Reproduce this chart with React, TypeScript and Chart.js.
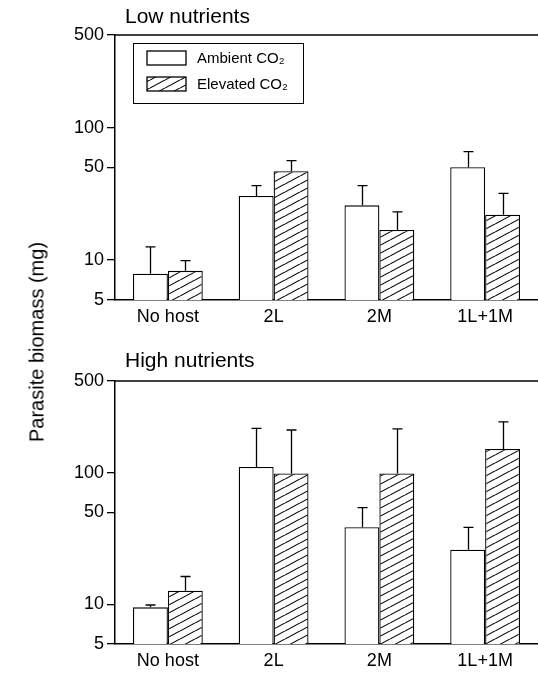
import React, { useEffect, useRef } from "react";
import { Chart, registerables } from "chart.js";

Chart.register(...registerables);

const categories = ["No host", "2L", "2M", "1L+1M"];
const yTicks = [5, 10, 50, 100, 500];
const seriesLabels = ["Ambient CO₂", "Elevated CO₂"];

const lowAmbient = [7.9, 30.5, 25.9, 50.2];
const lowAmbientErr = [12.6, 36.5, 36.5, 65.8];
const lowElevated = [8.3, 46.8, 16.9, 22.0];
const lowElevatedErr = [9.9, 56.3, 23.1, 31.9];

const highAmbient = [9.5, 111, 38.6, 26.1];
const highAmbientErr = [9.9, 218, 54.4, 38.6];
const highElevated = [12.7, 99, 99, 152];
const highElevatedErr = [16.3, 212, 216, 244];

const FONT = "'Liberation Sans', Arial, Helvetica, sans-serif";

function makeHatch(): CanvasPattern | string {
  const w = 15;
  const h = 8;
  const c = document.createElement("canvas");
  c.width = w;
  c.height = h;
  const ctx = c.getContext("2d");
  if (!ctx) return "#fff";
  ctx.fillStyle = "#fff";
  ctx.fillRect(0, 0, w, h);
  ctx.strokeStyle = "#000";
  ctx.lineWidth = 1.1;
  for (let k = -1; k <= 1; k++) {
    ctx.beginPath();
    ctx.moveTo(k * w, h);
    ctx.lineTo(k * w + w, 0);
    ctx.stroke();
  }
  const p = ctx.createPattern(c, "repeat");
  return p || "#fff";
}

type PanelProps = {
  title: string;
  titleBaseline: number;
  ambient: number[];
  ambientErr: number[];
  elevated: number[];
  elevatedErr: number[];
  padTop: number;
  axisHeight: number;
  height: number;
  showLegend: boolean;
};

function Panel(props: PanelProps) {
  const ref = useRef<HTMLCanvasElement | null>(null);
  useEffect(() => {
    const canvas = ref.current;
    if (!canvas) return;
    const hatch = makeHatch();
    const errs = [props.ambientErr, props.elevatedErr];

    const decor = {
      id: "decor",
      afterDatasetsDraw(chart: any) {
        const ctx = chart.ctx;
        const area = chart.chartArea;
        const ys = chart.scales.y;
        ctx.save();
        // error bars
        ctx.strokeStyle = "#000";
        ctx.lineWidth = 1.3;
        chart.data.datasets.forEach((_ds: any, i: number) => {
          const meta = chart.getDatasetMeta(i);
          meta.data.forEach((bar: any, j: number) => {
            const x = Math.round(bar.x) + 0.5;
            const yTop = bar.y;
            const yErr = ys.getPixelForValue(errs[i][j]);
            ctx.beginPath();
            ctx.moveTo(x, yTop);
            ctx.lineTo(x, yErr);
            ctx.moveTo(x - 5, yErr);
            ctx.lineTo(x + 5, yErr);
            ctx.stroke();
          });
        });
        // top frame line
        ctx.lineWidth = 1.5;
        ctx.beginPath();
        ctx.moveTo(area.left, area.top);
        ctx.lineTo(chart.width, area.top);
        ctx.stroke();
        // title
        ctx.fillStyle = "#000";
        ctx.font = `21px ${FONT}`;
        ctx.textAlign = "left";
        ctx.textBaseline = "alphabetic";
        ctx.fillText(props.title, 125, props.titleBaseline);
        // legend
        if (props.showLegend) {
          const bx = 133;
          const by = 43;
          ctx.lineWidth = 1;
          ctx.strokeRect(bx + 0.5, by + 0.5, 170, 60);
          chart.data.datasets.forEach((ds: any, i: number) => {
            const sy = i === 0 ? 51 : 77;
            ctx.fillStyle = ds.backgroundColor;
            ctx.fillRect(147, sy, 39, 14);
            ctx.lineWidth = 1.3;
            ctx.strokeRect(147, sy, 39, 14);
            ctx.fillStyle = "#000";
            ctx.font = `15px ${FONT}`;
            ctx.textBaseline = "middle";
            ctx.fillText(ds.label, 197, sy + 8);
          });
        }
        ctx.restore();
      },
    };

    const chart = new Chart(canvas, {
      type: "bar",
      data: {
        labels: categories,
        datasets: [
          {
            label: seriesLabels[0],
            data: props.ambient,
            backgroundColor: "#ffffff",
            borderColor: "#000",
            borderWidth: 1.3,
          },
          {
            label: seriesLabels[1],
            data: props.elevated,
            backgroundColor: hatch as any,
            borderColor: "#000",
            borderWidth: 1.3,
          },
        ],
      },
      options: {
        responsive: false,
        animation: false,
        devicePixelRatio: 1,
        layout: { padding: { top: props.padTop, left: 0, right: 0, bottom: 0 } },
        datasets: { bar: { categoryPercentage: 0.66, barPercentage: 1.0 } },
        plugins: {
          legend: { display: false },
          tooltip: { enabled: false },
          title: { display: false },
        },
        scales: {
          x: {
            type: "category",
            grid: { display: false, drawTicks: false },
            border: { display: true, color: "#000", width: 1.5 },
            ticks: {
              color: "#000",
              font: { family: FONT, size: 18 },
              padding: 6,
              maxRotation: 0,
            },
            afterFit: (s: any) => {
              s.height = props.axisHeight;
            },
          },
          y: {
            type: "logarithmic",
            min: 5,
            max: 500,
            grid: {
              drawOnChartArea: false,
              drawTicks: true,
              tickLength: 8,
              color: "#000",
              lineWidth: 1.3,
            },
            border: { display: true, color: "#000", width: 1.5 },
            ticks: {
              color: "#000",
              font: { family: FONT, size: 18 },
              padding: 3,
              callback: (v: any) => String(v),
            },
            afterBuildTicks: (s: any) => {
              s.ticks = yTicks.map((v) => ({ value: v }));
            },
            afterFit: (s: any) => {
              s.width = 115;
            },
          },
        },
      },
      plugins: [decor],
    });
    return () => chart.destroy();
  }, []);
  return (
    <canvas
      ref={ref}
      width={538}
      height={props.height}
      style={{ display: "block", width: 538, height: props.height }}
    />
  );
}

export default function App() {
  return (
    <div
      style={{
        position: "absolute",
        left: 0,
        top: 0,
        width: 538,
        height: 673,
        background: "#fff",
        overflow: "hidden",
      }}
    >
      <Panel
        title="Low nutrients"
        titleBaseline={23}
        ambient={lowAmbient}
        ambientErr={lowAmbientErr}
        elevated={lowElevated}
        elevatedErr={lowElevatedErr}
        padTop={35}
        axisHeight={35}
        height={335}
        showLegend={true}
      />
      <Panel
        title="High nutrients"
        titleBaseline={32}
        ambient={highAmbient}
        ambientErr={highAmbientErr}
        elevated={highElevated}
        elevatedErr={highElevatedErr}
        padTop={46}
        axisHeight={29}
        height={338}
        showLegend={false}
      />
      <div
        style={{
          position: "absolute",
          left: 37,
          top: 342,
          transform: "translate(-50%, -50%) rotate(-90deg)",
          fontFamily: FONT,
          fontSize: 20,
          whiteSpace: "nowrap",
          color: "#000",
        }}
      >
        Parasite biomass (mg)
      </div>
    </div>
  );
}
